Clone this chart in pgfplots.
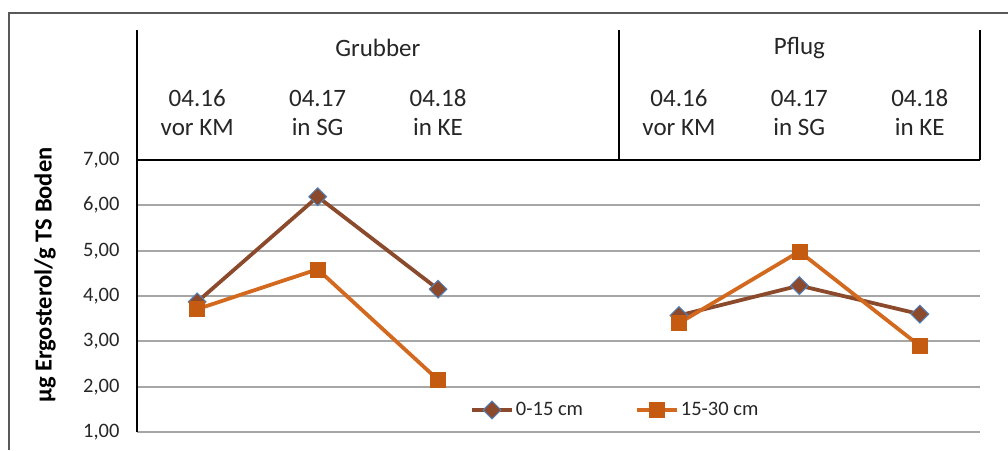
\documentclass[border=0pt]{standalone}
\usepackage{fontspec}
\setmainfont{Carlito}
\usepackage{pgfplots}
\pgfplotsset{compat=1.18}
\definecolor{brn}{HTML}{8B4A2B}
\definecolor{org}{HTML}{D2691E}
\definecolor{orgf}{HTML}{C55A11}
\definecolor{mkblue}{HTML}{4F81BD}
\definecolor{grd}{HTML}{A6A6A6}
\definecolor{frm}{HTML}{595959}
\definecolor{txt}{HTML}{262626}
\begin{document}
\begin{tikzpicture}
\useasboundingbox (0pt,0pt) rectangle (1008pt,450pt);
\draw[frm, line width=1.5pt] (9pt,0pt) -- (9pt,437pt) -- (1008pt,437pt);
\begin{axis}[
  at={(137pt,18pt)}, anchor=south west,
  scale only axis, width=843pt, height=272pt,
  xmin=0.5, xmax=7.5, ymin=1, ymax=7,
  clip=false,
  axis x line=none, axis y line*=left,
  y axis line style={black, line width=2pt},
  xtick=\empty,
  ytick={1,2,3,4,5,6,7},
  ymajorgrids, grid style={grd, line width=2pt},
  major tick length=0pt,
  yticklabel style={font=\fontsize{20.5}{24}\selectfont, text=txt, xshift=-14pt},
  /pgf/number format/use comma,
  /pgf/number format/fixed,
  /pgf/number format/fixed zerofill,
  /pgf/number format/precision=2,
  /pgf/number format/assume math mode=true,
  ylabel={µg Ergosterol/g TS Boden},
  ylabel style={font=\bfseries\fontsize{24.5}{28}\selectfont, text=black, at={(axis description cs:-0.109,0.577)}, anchor=center},
  unbounded coords=jump,
  legend columns=2,
  legend style={draw=none, fill=none, at={(axis cs:3.265,1.485)}, anchor=west, font=\fontsize{20.5}{24}\selectfont, text=txt, /tikz/every even column/.append style={column sep=50pt}, inner sep=0pt},
  legend image code/.code={\draw[mark repeat=2, mark phase=2, #1] plot coordinates {(0pt,0pt) (20pt,0pt) (40pt,0pt)};},
]
\addplot[brn, line width=3.8pt, mark=square*, mark size=6.3pt, mark options={rotate=45, fill=brn, draw=mkblue, line width=1pt}]
  coordinates {(1,3.87) (2,6.19) (3,4.15) (4,nan) (5,3.57) (6,4.23) (7,3.60)};
\addlegendentry{0-15 cm}
\addplot[org, line width=3.8pt, mark=square*, mark size=7.5pt, mark options={fill=orgf, draw=orgf, line width=0.5pt}]
  coordinates {(1,3.71) (2,4.59) (3,2.15) (4,nan) (5,3.40) (6,4.98) (7,2.90)};
\addlegendentry{15-30 cm}
\draw[black, line width=2pt] (axis cs:0.5,7) -- (axis cs:7.5,7);
\draw[black, line width=2pt] (axis cs:0.5,7) -- (axis cs:0.5,9.868);
\draw[black, line width=2pt] (axis cs:4.5,7) -- (axis cs:4.5,9.868);
\draw[black, line width=2pt] (axis cs:7.5,7) -- (axis cs:7.5,9.868);
\node[font=\fontsize{25}{29}\selectfont, text=txt] at (axis cs:2.5,9.47) {Grubber};
\node[font=\fontsize{25}{29}\selectfont, text=txt] at (axis cs:6,9.47) {Pflug};
\node[align=center, font=\fontsize{25}{29}\selectfont, text=txt] at (axis cs:1,8.04) {04.16\\vor KM};
\node[align=center, font=\fontsize{25}{29}\selectfont, text=txt] at (axis cs:2,8.04) {04.17\\in SG};
\node[align=center, font=\fontsize{25}{29}\selectfont, text=txt] at (axis cs:3,8.04) {04.18\\in KE};
\node[align=center, font=\fontsize{25}{29}\selectfont, text=txt] at (axis cs:5,8.04) {04.16\\vor KM};
\node[align=center, font=\fontsize{25}{29}\selectfont, text=txt] at (axis cs:6,8.04) {04.17\\in SG};
\node[align=center, font=\fontsize{25}{29}\selectfont, text=txt] at (axis cs:7,8.04) {04.18\\in KE};
\end{axis}
\end{tikzpicture}
\end{document}
